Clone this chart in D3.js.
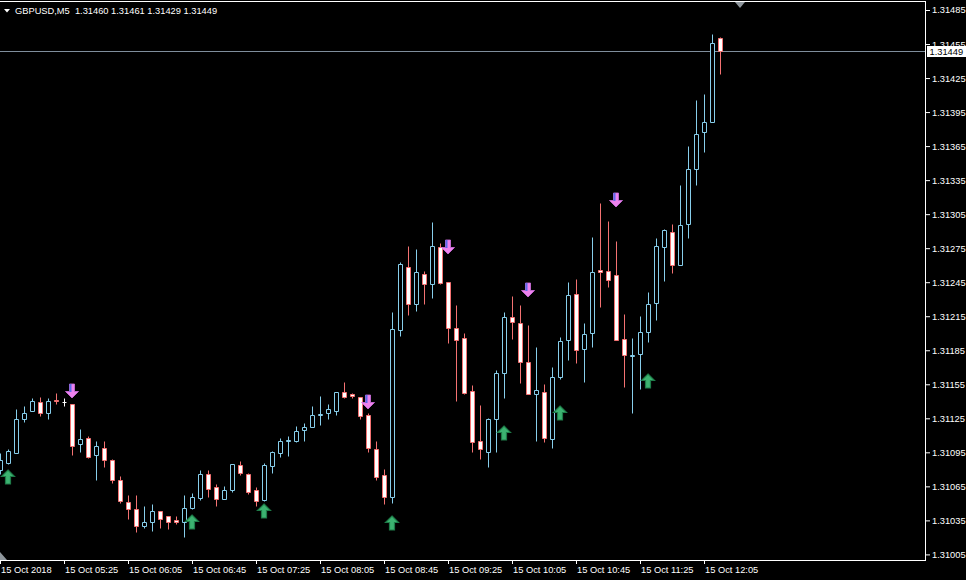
<!DOCTYPE html>
<html><head><meta charset="utf-8">
<script src="https://cdn.jsdelivr.net/npm/d3@7"></script>
<style>
html,body{margin:0;padding:0;background:#000;overflow:hidden}
svg{display:block}
text{font-family:"Liberation Sans",Arial,sans-serif;font-size:9.3px}
</style></head><body>
<svg id="c" width="966" height="580"></svg>
<script>
// ---- data (GBPUSD, M5, 15 Oct 2018, bars from 04:45 to 12:15) ----
const symbolTitle = "GBPUSD,M5";
const lastQuote = ["1.31460", "1.31461", "1.31429", "1.31449"];
const lastPrice = 1.31449;

const open = [1.31079,1.31086,1.31094,1.31124,1.31131,1.31139,1.31130,1.31141,1.31139,1.31138,
1.31102,1.31108,1.31093,1.31099,1.31088,1.31071,1.31051,1.31045,1.31030,1.31034,
1.31043,1.31039,1.31035,1.31034,1.31046,1.31055,1.31076,1.31064,1.31054,1.31062,
1.31084,1.31076,1.31062,1.31053,1.31083,1.31094,1.31105,1.31105,1.31115,1.31117,
1.31128,1.31130,1.31131,1.31148,1.31146,1.31144,1.31128,1.31098,1.31075,1.31056,
1.31203,1.31258,1.31226,1.31252,1.31243,1.31276,1.31245,1.31205,1.31196,1.31149,
1.31105,1.31095,1.31124,1.31165,1.31214,1.31209,1.31175,1.31146,1.31148,1.31107,
1.31161,1.31194,1.31235,1.31186,1.31200,1.31256,1.31255,1.31251,1.31195,1.31180,
1.31182,1.31201,1.31227,1.31276,1.31289,1.31260,1.31296,1.31345,1.31377,1.31386,
1.31460];
const high = [1.31094,1.31098,1.31133,1.31136,1.31143,1.31144,1.31143,1.31147,1.31143,1.31138,
1.31116,1.31109,1.31105,1.31105,1.31089,1.31074,1.31057,1.31057,1.31048,1.31049,
1.31043,1.31039,1.31039,1.31057,1.31059,1.31079,1.31079,1.31067,1.31065,1.31085,
1.31087,1.31077,1.31064,1.31086,1.31096,1.31108,1.31109,1.31118,1.31121,1.31136,
1.31145,1.31138,1.31148,1.31157,1.31147,1.31144,1.31130,1.31105,1.31080,1.31219,
1.31263,1.31277,1.31274,1.31255,1.31298,1.31280,1.31245,1.31225,1.31200,1.31154,
1.31137,1.31125,1.31168,1.31219,1.31233,1.31225,1.31207,1.31188,1.31155,1.31170,
1.31197,1.31245,1.31248,1.31209,1.31285,1.31315,1.31299,1.31281,1.31217,1.31196,
1.31215,1.31236,1.31284,1.31292,1.31296,1.31331,1.31365,1.31406,1.31411,1.31464,
1.31461];
const low = [1.31076,1.31085,1.31094,1.31122,1.31131,1.31127,1.31124,1.31138,1.31136,1.31093,
1.31095,1.31090,1.31071,1.31082,1.31068,1.31050,1.31036,1.31025,1.31028,1.31026,
1.31028,1.31027,1.31032,1.31020,1.31045,1.31053,1.31056,1.31048,1.31054,1.31060,
1.31075,1.31058,1.31048,1.31052,1.31077,1.31091,1.31092,1.31104,1.31105,1.31117,
1.31119,1.31124,1.31128,1.31143,1.31143,1.31124,1.31095,1.31071,1.31049,1.31050,
1.31198,1.31216,1.31220,1.31226,1.31231,1.31243,1.31191,1.31140,1.31146,1.31095,
1.31089,1.31082,1.31095,1.31143,1.31195,1.31156,1.31146,1.31105,1.31104,1.31099,
1.31160,1.31176,1.31174,1.31157,1.31188,1.31223,1.31241,1.31194,1.31153,1.31130,
1.31151,1.31192,1.31212,1.31246,1.31253,1.31260,1.31284,1.31331,1.31360,1.31386,
1.31429];
const close = [1.31088,1.31096,1.31124,1.31130,1.31140,1.31130,1.31140,1.31140,1.31139,1.31101,
1.31107,1.31091,1.31101,1.31088,1.31071,1.31052,1.31045,1.31030,1.31034,1.31043,
1.31036,1.31034,1.31034,1.31046,1.31056,1.31076,1.31063,1.31054,1.31062,1.31085,
1.31077,1.31060,1.31052,1.31084,1.31095,1.31105,1.31106,1.31114,1.31117,1.31128,
1.31129,1.31133,1.31148,1.31144,1.31145,1.31127,1.31099,1.31073,1.31056,1.31204,
1.31261,1.31226,1.31254,1.31243,1.31277,1.31244,1.31205,1.31194,1.31147,1.31104,
1.31098,1.31124,1.31165,1.31214,1.31210,1.31175,1.31146,1.31150,1.31108,1.31161,
1.31193,1.31234,1.31185,1.31199,1.31254,1.31254,1.31247,1.31194,1.31181,1.31181,
1.31201,1.31226,1.31277,1.31291,1.31260,1.31295,1.31345,1.31376,1.31386,1.31456,
1.31449];

// signal arrows: bar index and price of the arrow tip
const upArrowBar = [1, 24, 33, 49, 63, 70, 81];
const upArrowPrice = [1.31079, 1.31040, 1.31049, 1.31039, 1.31118, 1.31136, 1.31164];
const downArrowBar = [9, 46, 56, 66, 77];
const downArrowPrice = [1.31143, 1.31133, 1.31270, 1.31232, 1.31311];

// axes
const xTickBars = [0, 8, 16, 24, 32, 40, 48, 56, 64, 72, 80, 88];
const xTickLabels = ["15 Oct 2018","15 Oct 05:25","15 Oct 06:05","15 Oct 06:45","15 Oct 07:25","15 Oct 08:05",
  "15 Oct 08:45","15 Oct 09:25","15 Oct 10:05","15 Oct 10:45","15 Oct 11:25","15 Oct 12:05"];
const yTicks = [1.31485,1.31455,1.31425,1.31395,1.31365,1.31335,1.31305,1.31275,1.31245,
  1.31215,1.31185,1.31155,1.31125,1.31095,1.31065,1.31035,1.31005];

// ---- drawing ----
const W = 966, H = 580, plotR = 926, plotB = 560;
const BULL = "#87CEEB", BEAR = "#F47272", DOJI = "#FFFFFF";

const svg = d3.select("#c");
svg.append("rect").attr("width", W).attr("height", H).attr("fill", "#000");

const x = d3.scaleLinear().domain([0, 115.75]).range([0, plotR]);
const y = d3.scaleLinear().domain([1.31005, 1.31485]).range([554.4, 10]);
const px = v => Math.round(v) + 0.5;

const bars = open.map((o, i) => ({i, o, h: high[i], l: low[i], c: close[i]}));

const plot = svg.append("g");
plot.append("clipPath").attr("id", "clip").append("rect")
  .attr("x", 0).attr("y", 2).attr("width", plotR).attr("height", plotB - 2);
const cg = plot.append("g").attr("clip-path", "url(#clip)");

// current price line (behind candles)
const yLast = px(y(lastPrice));
cg.append("line").attr("x1", 0).attr("x2", plotR).attr("y1", yLast).attr("y2", yLast)
  .attr("stroke", "#7F8E9C").attr("stroke-width", 1);

const g = cg.selectAll("g.bar").data(bars).join("g").attr("class", "bar");
g.each(function(d) {
  const sel = d3.select(this);
  const cx = px(x(d.i));
  const diff = d.c - d.o;
  const kind = diff > 1e-9 ? "bull" : diff < -1e-9 ? "bear" : "doji";
  const col = kind === "bull" ? BULL : kind === "bear" ? BEAR : DOJI;
  sel.append("line").attr("x1", cx).attr("x2", cx)
    .attr("y1", px(y(d.h))).attr("y2", px(y(d.l)))
    .attr("stroke", col).attr("stroke-width", 1);
  const yt = px(y(Math.max(d.o, d.c))), yb = px(y(Math.min(d.o, d.c)));
  if (kind === "doji") {
    sel.append("line").attr("x1", cx - 2).attr("x2", cx + 2).attr("y1", yt).attr("y2", yt)
      .attr("stroke", col).attr("stroke-width", 1);
  } else {
    sel.append("path")
      .attr("d", `M${cx - 2},${yt}H${cx + 2}V${yb}H${cx - 2}Z`)
      .attr("fill", kind === "bull" ? "#000" : "#FFFFFF")
      .attr("stroke", col).attr("stroke-width", 1);
  }
});

// arrows
const ups = upArrowBar.map((b, k) => ({b, p: upArrowPrice[k]}));
const downs = downArrowBar.map((b, k) => ({b, p: downArrowPrice[k]}));
cg.selectAll("path.up").data(ups).join("path").attr("class", "up")
  .attr("transform", d => `translate(${Math.round(x(d.b))},${Math.round(y(d.p))})`)
  .attr("d", "M0,0L6.5,6.5L2.5,6.5L2.5,14L-2.5,14L-2.5,6.5L-6.5,6.5Z")
  .attr("fill", "#3CB371").attr("stroke", "#1E7B48").attr("stroke-width", 1.2);
const dg = cg.selectAll("g.down").data(downs).join("g").attr("class", "down")
  .attr("transform", d => `translate(${Math.round(x(d.b))},${Math.round(y(d.p))})`);
dg.append("path")
  .attr("d", "M0,0L-6.5,-6.5L-2.5,-6.5L-2.5,-14L2.5,-14L2.5,-6.5L6.5,-6.5Z")
  .attr("fill", "#EE82EE").attr("stroke", "#D070E0").attr("stroke-width", 0.8);
dg.append("rect").attr("x", -2.5).attr("y", -14).attr("width", 2).attr("height", 8)
  .attr("fill", "#5B6BE8");

// frame
svg.append("line").attr("x1", 0).attr("x2", plotR).attr("y1", 1.5).attr("y2", 1.5).attr("stroke", "#fff");
svg.append("line").attr("x1", plotR - 0.5).attr("x2", plotR - 0.5).attr("y1", 1.5).attr("y2", plotB + 0.5).attr("stroke", "#fff");
svg.append("line").attr("x1", 0).attr("x2", plotR).attr("y1", plotB + 0.5).attr("y2", plotB + 0.5).attr("stroke", "#fff");

// chart shift / scroll markers
svg.append("path").attr("d", "M735,2L745,2L740,8Z").attr("fill", "#8E969C");
svg.append("path").attr("d", "M0,552L0,560L7,560Z").attr("fill", "#8E969C");

// x axis
const xAxis = d3.axisBottom(x).tickValues(xTickBars)
  .tickFormat((d, k) => xTickLabels[k]).tickSize(4).tickPadding(2);
const gx = svg.append("g").attr("transform", `translate(0,${plotB})`).call(xAxis);
gx.select(".domain").remove();
gx.selectAll(".tick line").attr("stroke", "#fff");
gx.selectAll(".tick text").attr("fill", "#fff").attr("text-anchor", "start").attr("x", 0.5)
  .style("font-family", "'Liberation Sans',Arial,sans-serif").style("font-size", "9.3px");

// y axis
const yAxis = d3.axisRight(y).tickValues(yTicks).tickFormat(d3.format(".5f")).tickSize(4).tickPadding(2);
const gy = svg.append("g").attr("transform", `translate(${plotR},0)`).call(yAxis);
gy.select(".domain").remove();
gy.selectAll(".tick line").attr("stroke", "#fff");
gy.selectAll(".tick text").attr("fill", "#fff")
  .style("font-family", "'Liberation Sans',Arial,sans-serif").style("font-size", "9.3px");

// current price label
svg.append("rect").attr("x", 927).attr("y", yLast - 5.5).attr("width", 39).attr("height", 11).attr("fill", "#fff");
svg.append("text").attr("x", 929.5).attr("y", yLast).attr("dy", "0.34em").attr("fill", "#000")
  .text(d3.format(".5f")(lastPrice));

// title
svg.append("path").attr("d", "M4,9L10,9L7,12.5Z").attr("fill", "#fff");
svg.append("text").attr("x", 15).attr("y", 14).attr("fill", "#fff").attr("xml:space", "preserve")
  .style("white-space", "pre")
  .text(symbolTitle + "  " + lastQuote.join(" "));
</script>
</body></html>
